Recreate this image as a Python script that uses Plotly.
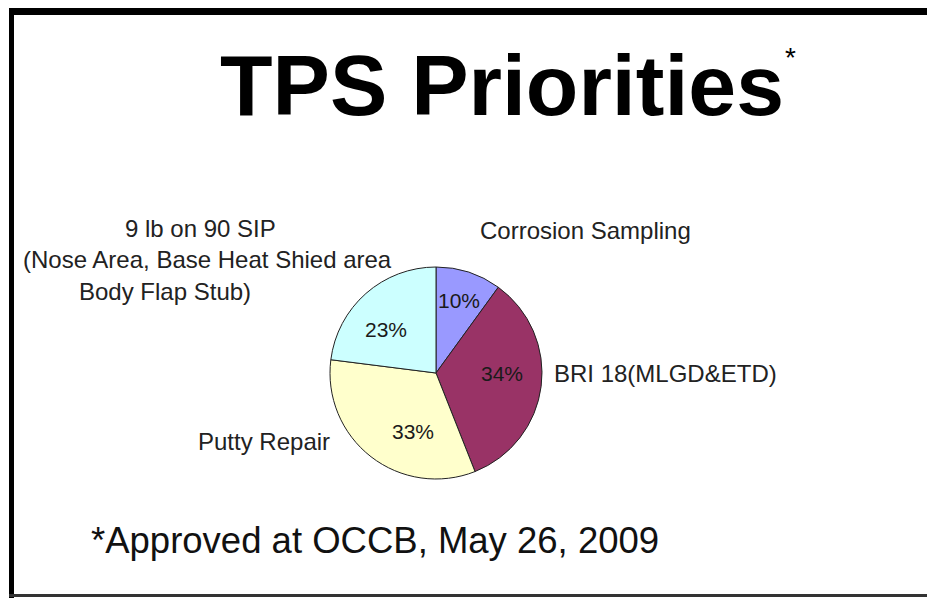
import plotly.graph_objects as go

# ---- data ----
categories = ["Corrosion Sampling", "BRI 18(MLGD&ETD)", "Putty Repair",
              "9 lb on 90 SIP<br>(Nose Area, Base Heat Shied area<br>Body Flap Stub)"]
values = [10, 34, 33, 23]
colors = ["#9999FF", "#993366", "#FFFFCC", "#CCFFFF"]
title_text = "TPS Priorities"
footnote = "*Approved at OCCB, May 26, 2009"

W, H = 935, 598
OFF = 8  # page body margin offset


def px(x):
    return (x - OFF) / W


def py(y):
    return 1 - (y - OFF) / H


# pie geometry (reference pixels)
cx, cy, r = 436, 373, 106

fig = go.Figure()
fig.add_trace(go.Pie(
    labels=categories,
    values=values,
    sort=False,
    direction="clockwise",
    rotation=0,
    marker=dict(colors=colors, line=dict(color="#222222", width=1)),
    textinfo="none",
    hoverinfo="label+percent",
    showlegend=False,
    domain=dict(x=[px(cx - r), px(cx + r)], y=[py(cy + r), py(cy - r)]),
))

total = sum(values)
pct_font = dict(family="Liberation Sans, Arial, sans-serif", size=21, color="#1a1a1a")
pct_pos = [(459, 300), (502, 373), (413, 431), (386, 329)]
annotations = []
for v, (lx, ly) in zip(values, pct_pos):
    annotations.append(dict(text=f"{round(v / total * 100)}%", x=px(lx), y=py(ly),
                            xref="paper", yref="paper", xanchor="center", yanchor="middle",
                            showarrow=False, font=pct_font))

label_font = dict(family="Liberation Sans, Arial, sans-serif", size=24, color="#222222")
lab = []
# Corrosion Sampling
lab.append(dict(text=categories[0], x=px(478), y=py(231), xanchor="left", yanchor="middle"))
# BRI
lab.append(dict(text=categories[1], x=px(552), y=py(373), xanchor="left", yanchor="middle"))
# Putty Repair
lab.append(dict(text=categories[2], x=px(332), y=py(441), xanchor="right", yanchor="middle"))
# 9 lb label, line by line
lines = categories[3].split("<br>")
line_pos = [(200, 228), (207, 260), (165, 291)]
for t, (lx, ly) in zip(lines, line_pos):
    lab.append(dict(text=t, x=px(lx), y=py(ly), xanchor="center", yanchor="middle"))
for a in lab:
    a.update(xref="paper", yref="paper", showarrow=False, font=label_font)
annotations += lab

# title
annotations.append(dict(text="<b>" + title_text + "</b>", x=px(502), y=py(85), xref="paper", yref="paper",
                        xanchor="center", yanchor="middle", showarrow=False,
                        font=dict(family="Liberation Sans, Arial, sans-serif", size=86, color="#000000")))
annotations.append(dict(text="*", x=px(790), y=py(58), xref="paper", yref="paper",
                        xanchor="center", yanchor="middle", showarrow=False,
                        font=dict(family="Liberation Sans, Arial, sans-serif", size=28, color="#000000")))
# footnote
annotations.append(dict(text=footnote, x=px(89), y=py(540), xref="paper", yref="paper",
                        xanchor="left", yanchor="middle", showarrow=False,
                        font=dict(family="Liberation Sans, Arial, sans-serif", size=36.5, color="#111111")))

shapes = [
    dict(type="rect", xref="paper", yref="paper", x0=px(9), x1=px(935), y0=py(15), y1=py(8),
         fillcolor="#000000", line=dict(width=0)),
    dict(type="rect", xref="paper", yref="paper", x0=px(9), x1=px(14), y0=py(598), y1=py(8),
         fillcolor="#000000", line=dict(width=0)),
    dict(type="rect", xref="paper", yref="paper", x0=px(9), x1=px(935), y0=py(597), y1=py(594),
         fillcolor="#333333", line=dict(width=0)),
    dict(type="rect", xref="paper", yref="paper", x0=px(931), x1=px(934), y0=py(598), y1=py(8),
         fillcolor="#888888", line=dict(width=0)),
]

fig.update_layout(
    width=W, height=H,
    margin=dict(l=0, r=0, t=0, b=0),
    paper_bgcolor="white", plot_bgcolor="white",
    annotations=annotations, shapes=shapes,
)

fig.write_html("out.html")
